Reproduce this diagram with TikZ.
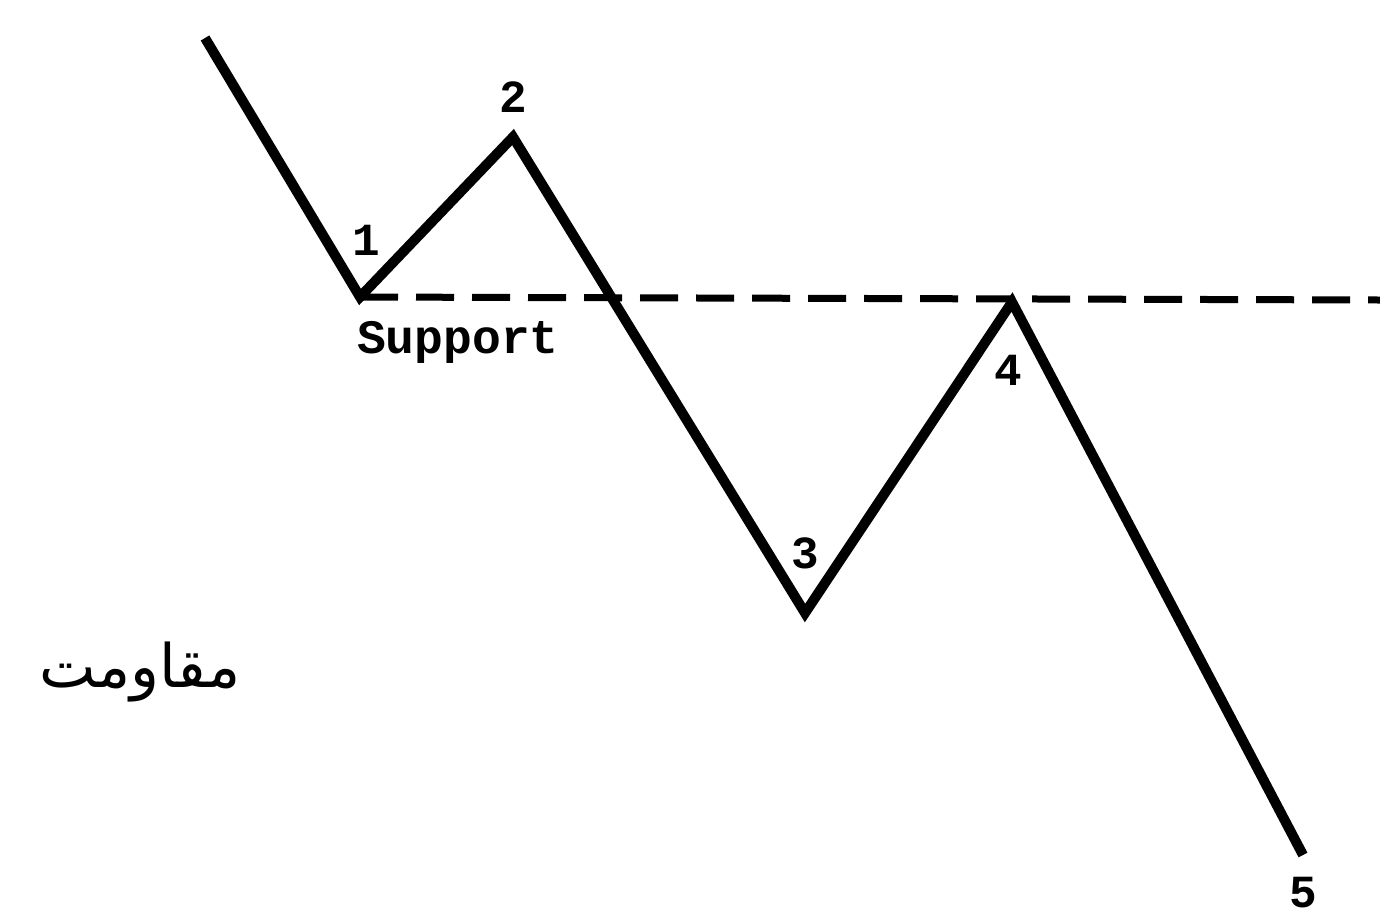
\documentclass[tikz,border=0pt]{standalone}
\usepackage{fontspec}
\setmonofont{Liberation Mono}
\newfontfamily\arabicfont[Script=Arabic]{DejaVu Sans}
\TeXXeTstate=1
\begin{document}
\begin{tikzpicture}[x=1pt,y=-1pt,
  wave/.style={line width=10pt,line join=miter,line cap=butt},
  supp/.style={line width=7pt,dash pattern=on 38pt off 18pt},
  lbl/.style={font=\fontsize{46}{46}\selectfont\ttfamily\bfseries,inner sep=0pt}]
\fill[white] (0,0) rectangle (1380,919);
\useasboundingbox (0,0) rectangle (1380,919);
\coordinate (p0) at (205,38);
\coordinate (p1) at (360,297);
\coordinate (p2) at (513,137);
\coordinate (p3) at (805,613);
\coordinate (p4) at (1012,302);
\coordinate (p5) at (1303,855);
\coordinate (sEnd) at (1380,300);
\draw[supp] (p1) -- (sEnd);
\draw[wave] (p0) -- (p1) -- (p2) -- (p3) -- (p4) -- (p5);
\node[lbl] (l1) at (366,240) {1};
\node[lbl] (l2) at (513,97) {2};
\node[lbl,font=\fontsize{48}{48}\selectfont\ttfamily\bfseries] (ls) at (458,342) {Support};
\node[lbl] (l3) at (805,553) {3};
\node[lbl] (l4) at (1008,370) {4};
\node[lbl] (l5) at (1303,893) {5};
\node[inner sep=0pt,font=\fontsize{60}{60}\selectfont] (ar) at (140,672) {\arabicfont\beginR مقاومت\endR};
\end{tikzpicture}
\end{document}
